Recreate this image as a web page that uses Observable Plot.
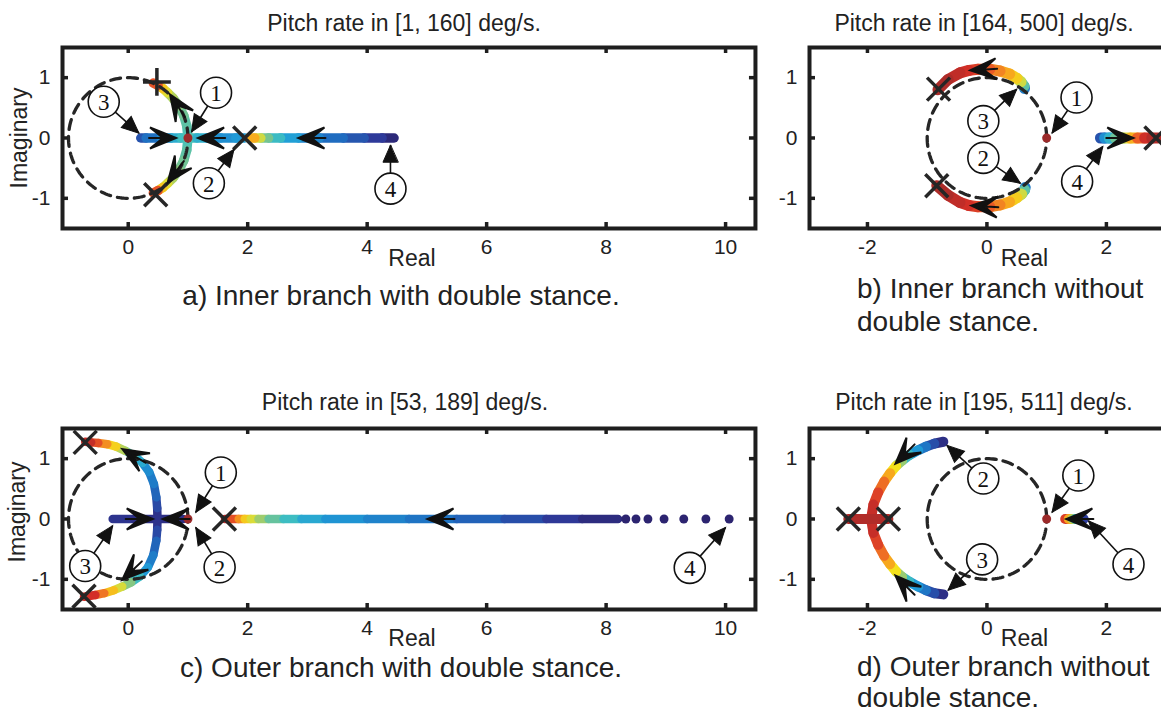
<!DOCTYPE html>
<html><head><meta charset="utf-8">
<script src="https://cdn.jsdelivr.net/npm/d3@7"></script>
<script src="https://cdn.jsdelivr.net/npm/@observablehq/plot@0.6"></script>
<style>
html,body{margin:0;padding:0;background:#fff;}
#root{position:relative;width:1161px;height:712px;overflow:hidden;background:#fff;font-family:"Liberation Sans",Arial,sans-serif;color:#222;}
.t{position:absolute;white-space:nowrap;line-height:1;}
.panel{position:absolute;}
.panel svg [aria-label^="x-axis"] text, .panel svg [aria-label^="y-axis"] text{font-size:21px;}
</style></head><body><div id="root"></div>
<script>
// ---------- data ----------
const xTicksWide = [0, 2, 4, 6, 8, 10];
const xTicksNarrow = [-2, 0, 2];
const yTicks = [-1, 0, 1];

const titles = ["Pitch rate in [1, 160] deg/s.", "Pitch rate in [164, 500] deg/s.", "Pitch rate in [53, 189] deg/s.", "Pitch rate in [195, 511] deg/s."];
const captionA = ["a) Inner branch with double stance."];
const captionB = ["b) Inner branch without", "double stance."];
const captionC = ["c) Outer branch with double stance."];
const captionD = ["d) Outer branch without", "double stance."];
const xLabel = "Real";
const yLabel = "Imaginary";

// branches: [real, imag, normalised pitch rate]
const aBranch3 = [[0.21,0,0.1],[0.3,0,0.2],[0.55,0,0.22],[0.72,0,0.3],[0.88,0,0.37],[1.0,0,0.39]];
const aBranch2 = [[1.0,0,0.39],[1.15,0,0.38],[1.32,0,0.3],[1.55,0,0.26],[1.8,0,0.28],[1.95,0,0.3]];
const aBranch4 = [[4.45,0,0.02],[4.25,0,0.07],[3.95,0,0.13],[3.6,0,0.18],[3.2,0,0.22],[2.85,0,0.27],[2.55,0,0.34],[2.35,0,0.4],[2.22,0,0.5],[2.12,0,0.6],[2.02,0,0.75]];
const aArcUp = [[1.0,0,0.39],[0.98,0.2,0.41],[0.93,0.37,0.43],[0.85,0.53,0.46],[0.75,0.66,0.49],[0.66,0.75,0.54],[0.58,0.82,0.6],[0.5,0.87,0.68],[0.42,0.91,0.93]];
const aArcDown = [[1.0,0,0.39],[0.98,-0.2,0.41],[0.93,-0.37,0.43],[0.85,-0.53,0.46],[0.75,-0.66,0.49],[0.66,-0.75,0.54],[0.58,-0.82,0.6],[0.5,-0.87,0.68],[0.42,-0.91,0.93]];
const aCrosses = [[0.46,-0.94],[1.95,0]];
const aPlus = [[0.48,0.93]];
const aRedDots = [[1,0]];
const aArrows = [[0.8,0,1,0],[1.17,0,-1,0],[2.85,0,-1,0],[0.7,0.72,-0.55,0.83],[0.66,-0.74,-0.6,-0.8]];
const aLabels = [["1",1.47,0.75,1.06,0.1],["2",1.35,-0.75,1.77,-0.19],["3",-0.41,0.6,0.18,0.08],["4",4.39,-0.84,4.39,-0.12]];

const bArc3 = [[0.63,0.82,0.12],[0.62,0.86,0.34],[0.57,0.93,0.5],[0.5,0.99,0.6],[0.38,1.06,0.66],[0.22,1.11,0.7],[0.05,1.14,0.76],[-0.15,1.14,0.82],[-0.3,1.12,0.86],[-0.45,1.08,0.89],[-0.65,0.97,0.94],[-0.82,0.8,0.98]];
const bArc2 = [[0.64,-0.82,0.12],[0.63,-0.86,0.34],[0.58,-0.93,0.5],[0.5,-0.99,0.6],[0.38,-1.06,0.66],[0.22,-1.11,0.7],[0.05,-1.14,0.76],[-0.15,-1.14,0.82],[-0.3,-1.12,0.86],[-0.45,-1.07,0.89],[-0.65,-0.95,0.94],[-0.84,-0.79,0.98]];
const bBranch4 = [[1.9,0,0.08],[1.97,0,0.22],[2.05,0,0.32],[2.15,0,0.38],[2.28,0,0.5],[2.4,0,0.62],[2.52,0,0.72],[2.64,0,0.84],[2.76,0,0.92],[2.86,0,0.97]];
const bCrosses = [[-0.81,0.81],[-0.84,-0.79],[2.83,0]];
const bRedDots = [[1,0]];
const bArrows = [[-0.28,1.12,-1,-0.06],[-0.26,-1.12,-1,0.06],[2.45,0,1,0]];
const bLabels = [["1",1.5,0.67,1.09,0.08],["3",-0.06,0.28,0.5,0.81],["2",-0.06,-0.33,0.56,-0.75],["4",1.51,-0.72,1.94,-0.14]];

const cBranch3 = [[-0.26,0,0.09],[0.1,0,0.07],[0.5,0,0.06],[0.92,0,0.07]];
const cArcUp = [[0.49,0,0.05],[0.485,0.18,0.1],[0.47,0.36,0.16],[0.43,0.58,0.21],[0.35,0.78,0.25],[0.24,0.93,0.28],[0.1,1.05,0.38],[-0.05,1.13,0.46],[-0.2,1.2,0.58],[-0.35,1.24,0.67],[-0.5,1.26,0.76],[-0.62,1.27,0.86],[-0.72,1.28,0.95]];
const cArcDown = [[0.49,0,0.05],[0.485,-0.18,0.1],[0.47,-0.36,0.16],[0.42,-0.6,0.21],[0.33,-0.8,0.26],[0.2,-0.95,0.32],[0.05,-1.05,0.42],[-0.1,-1.12,0.52],[-0.24,-1.18,0.6],[-0.4,-1.23,0.7],[-0.55,-1.26,0.8],[-0.74,-1.29,0.94]];
const cBranch4 = [[1.62,0,0.95],[1.72,0,0.87],[1.85,0,0.75],[1.95,0,0.67],[2.05,0,0.6],[2.18,0,0.53],[2.35,0,0.46],[2.6,0,0.4],[2.9,0,0.35],[3.3,0,0.3],[4.0,0,0.26],[4.7,0,0.23],[5.5,0,0.2],[6.3,0,0.16],[7.0,0,0.12],[7.6,0,0.07],[8.2,0,0.04]];
const cSparseDots = [[8.33,0,0.03],[8.5,0,0.03],[8.7,0,0.03],[8.97,0,0.03],[9.3,0,0.03],[9.67,0,0.03],[10.06,0,0.03]];
const cCrosses = [[-0.72,1.27],[-0.74,-1.28],[1.61,0]];
const cRedDots = [[1,0]];
const cArrows = [[0.41,0,1,0],[0.58,0,-1,0],[-0.1,1.16,-0.85,0.5],[-0.1,-1.01,-0.72,-0.68],[5.01,0,-1,0]];
const cLabels = [["1",1.55,0.77,1.13,0.11],["2",1.53,-0.8,1.13,-0.14],["3",-0.72,-0.78,-0.26,-0.11],["4",9.4,-0.81,10.0,-0.14]];

const dBranch4 = [[1.31,0,0.93],[1.37,0,0.76],[1.43,0,0.6],[1.48,0,0.44],[1.53,0,0.3],[1.58,0,0.16],[1.62,0,0.05]];
const dArcUp = [[-0.73,1.28,0.03],[-0.88,1.25,0.1],[-1.02,1.2,0.18],[-1.15,1.14,0.26],[-1.3,1.06,0.32],[-1.42,0.97,0.42],[-1.52,0.88,0.56],[-1.62,0.76,0.64],[-1.72,0.62,0.72],[-1.82,0.44,0.8],[-1.9,0.24,0.87],[-1.94,0,0.93]];
const dArcDown = [[-0.73,-1.25,0.03],[-0.88,-1.23,0.1],[-1.02,-1.18,0.18],[-1.15,-1.12,0.26],[-1.3,-1.04,0.32],[-1.42,-0.96,0.42],[-1.52,-0.87,0.56],[-1.62,-0.75,0.64],[-1.72,-0.61,0.72],[-1.82,-0.43,0.8],[-1.9,-0.23,0.87],[-1.94,0,0.93]];
const dBar = [[-2.32,0,0.95],[-1.65,0,0.95]];
const dCrosses = [[-2.32,0],[-1.65,0]];
const dRedDots = [[1,0]];
const dArrows = [[-1.53,0.92,-0.7,-0.7],[-1.53,-0.94,-0.7,0.7],[1.33,0,-1,0]];
const dLabels = [["2",-0.06,0.67,-0.67,1.22],["3",-0.08,-0.67,-0.65,-1.18],["1",1.53,0.72,1.09,0.11],["4",2.37,-0.75,1.7,-0.03]];

// ---------- styling ----------
const cmapT = [0, 0.1, 0.2, 0.3, 0.38, 0.46, 0.54, 0.6, 0.68, 0.78, 0.87, 1];
const cmapC = ["#2b1b5e","#2e3a9a","#1f6cc0","#1f9ed8","#3fbfc0","#7dc58a","#c8d84a","#f4e21c","#f7a81e","#ec5f26","#d32f27","#9b2a2a"];
const ink = "#1e1e1e";
const PXU = 59.74;
const M = {ml: 62, mr: 20, mt: 47, mb: 42, fh: 181};
const yDomain = [-1.5, 1.5];
const unitCircleRadius = 1;
const unitCircle = d3.range(0, 361, 2).map(a => [unitCircleRadius * Math.cos(a * Math.PI / 180), unitCircleRadius * Math.sin(a * Math.PI / 180)]);

const stealth = {draw(ctx, l) {
  ctx.moveTo(0, 0); ctx.lineTo(0, -l + 12);
  ctx.moveTo(0, -l); ctx.lineTo(-10.5, -l + 26); ctx.lineTo(0, -l + 13); ctx.lineTo(10.5, -l + 26); ctx.closePath();
}};
const tri = {draw(ctx, l) {
  ctx.moveTo(0, -l); ctx.lineTo(-7.5, 0); ctx.lineTo(7.5, 0); ctx.closePath();
}};
const deg = (dx, dy) => Math.atan2(dx, dy) * 180 / Math.PI;

function makePanel(p) {
  const segs = [];
  for (const br of p.branches) for (let i = 1; i < br.length; ++i)
    segs.push({x1: br[i-1][0], y1: br[i-1][1], x2: br[i][0], y2: br[i][1], t: (br[i-1][2] + br[i][2]) / 2});
  const [x0, x1] = p.xDomain;
  const fw = (x1 - x0) * PXU;
  const tly = 6 * (yDomain[1] - yDomain[0]) / M.fh, tlx = 6 / PXU;
  const width = M.ml + fw + M.mr, height = M.mt + M.fh + M.mb;
  const svg = Plot.plot({
    width, height, marginLeft: M.ml, marginRight: M.mr, marginTop: M.mt, marginBottom: M.mb,
    x: {domain: p.xDomain}, y: {domain: yDomain},
    color: {type: "linear", domain: cmapT, range: cmapC, interpolate: "rgb"},
    style: {fontFamily: '"Liberation Sans", Arial, sans-serif', fontSize: "21px", color: "#222", background: "transparent", overflow: "visible", maxWidth: "none"},
    marks: [
      Plot.link(segs, {x1: "x1", y1: "y1", x2: "x2", y2: "y2", stroke: "t", strokeWidth: p.lw, strokeLinecap: "round"}),
      p.sparse ? Plot.dot(p.sparse, {x: d => d[0], y: d => d[1], fill: d => d[2], r: p.lw / 2 + 0.2}) : null,
      Plot.line(unitCircle, {x: d => d[0], y: d => d[1], stroke: "#262626", strokeWidth: 3.3, strokeDasharray: "10,7"}),
      Plot.dot(p.redDots, {x: d => d[0], y: d => d[1], r: 4.5, fill: "#9b2a2a"}),
      Plot.dot(p.crosses, {x: d => d[0], y: d => d[1], symbol: "times", r: 10.5, stroke: "#262626", strokeWidth: 3.5}),
      p.plus ? Plot.dot(p.plus, {x: d => d[0], y: d => d[1], symbol: "plus", r: 9, stroke: "#262626", strokeWidth: 3.5}) : null,
      Plot.vector(p.arrows, {x: d => d[0], y: d => d[1], rotate: d => deg(d[2], d[3]), length: 27, anchor: "end", shape: stealth, fill: "#111", stroke: "#111", strokeWidth: 2, strokeLinejoin: "miter"}),
      Plot.link(p.labels, {x1: d => d[1], y1: d => d[2], x2: d => d[3], y2: d => d[4], stroke: "#111", strokeWidth: 1.6}),
      Plot.vector(p.labels, {x: d => d[3], y: d => d[4], rotate: d => deg(d[3] - d[1], d[4] - d[2]), length: 17, anchor: "end", shape: tri, fill: "#111", stroke: "#111", strokeWidth: 1, strokeLinejoin: "miter"}),
      Plot.dot(p.labels, {x: d => d[1], y: d => d[2], r: 15.5, fill: "white", stroke: "#111", strokeWidth: 1.6}),
      Plot.text(p.labels, {x: d => d[1], y: d => d[2], text: d => d[0], fontFamily: '"Liberation Serif", "Times New Roman", serif', fontSize: 23, fill: "#111", dy: 1}),
      Plot.ruleX(p.xTicks, {x: d => d, y1: yDomain[0], y2: yDomain[0] + tly, stroke: ink, strokeWidth: 3.5}),
      Plot.ruleX(p.xTicks, {x: d => d, y1: yDomain[1], y2: yDomain[1] - tly, stroke: ink, strokeWidth: 3.5}),
      Plot.ruleY(yTicks, {y: d => d, x1: x0, x2: x0 + tlx, stroke: ink, strokeWidth: 3.5}),
      Plot.ruleY(yTicks, {y: d => d, x1: x1, x2: x1 - tlx, stroke: ink, strokeWidth: 3.5}),
      Plot.frame({stroke: ink, strokeWidth: 4}),
      Plot.axisX(p.xTicks, {tickSize: 0, tickPadding: 11, tickFormat: d => String(d), label: null, fontSize: 21, fill: "#222"}),
      Plot.axisY(yTicks, {tickSize: 0, tickPadding: 12, tickFormat: d => String(d), label: null, fontSize: 21, fill: "#222"})
    ]
  });
  const div = document.createElement("div");
  div.className = "panel";
  div.style.left = p.left + "px"; div.style.top = p.top + "px"; div.style.width = width + "px";
  div.appendChild(svg);
  root.appendChild(div);
}

const root = document.getElementById("root");

makePanel({left: 0, top: 0, xDomain: [-1.1, 10.5], xTicks: xTicksWide, lw: 9.5,
  branches: [aBranch3, aBranch2, aBranch4, aArcUp, aArcDown], crosses: aCrosses, plus: aPlus,
  redDots: aRedDots, arrows: aArrows, labels: aLabels});
makePanel({left: 747, top: 0, xDomain: [-2.97, 4.2], xTicks: xTicksNarrow, lw: 11,
  branches: [bArc3, bArc2, bBranch4], crosses: bCrosses,
  redDots: bRedDots, arrows: bArrows, labels: bLabels});
makePanel({left: 0, top: 381, xDomain: [-1.1, 10.5], xTicks: xTicksWide, lw: 8.5,
  branches: [cBranch3, cBranch4, cArcUp, cArcDown], sparse: cSparseDots, crosses: cCrosses,
  redDots: cRedDots, arrows: cArrows, labels: cLabels});
makePanel({left: 747, top: 381, xDomain: [-2.97, 4.2], xTicks: xTicksNarrow, lw: 10,
  branches: [dArcUp, dArcDown, dBar, dBranch4], crosses: dCrosses,
  redDots: dRedDots, arrows: dArrows, labels: dLabels});

// ---------- text ----------
function addText(str, o) {
  const el = document.createElement("div");
  el.className = "t"; el.textContent = str; el.style.fontSize = o.size + "px";
  if (o.rotate) {
    el.style.left = o.x + "px"; el.style.top = o.y + "px";
    el.style.transform = "translate(-50%,-50%) rotate(-90deg)";
  } else {
    el.style.left = o.x + "px"; el.style.top = (o.baseline - 0.8465 * o.size) + "px";
    if (o.anchor !== "start") el.style.transform = "translateX(-50%)";
  }
  root.appendChild(el);
}
addText(titles[0], {x: 404, baseline: 31, size: 23});
addText(titles[1], {x: 984, baseline: 31, size: 23});
addText(titles[2], {x: 405, baseline: 410, size: 23});
addText(titles[3], {x: 984, baseline: 410, size: 23});
addText(xLabel, {x: 412, baseline: 266.5, size: 23});
addText(xLabel, {x: 1024.5, baseline: 266.5, size: 23});
addText(xLabel, {x: 412, baseline: 646.5, size: 23});
addText(xLabel, {x: 1024.5, baseline: 646.5, size: 23});
addText(yLabel, {x: 19, y: 138, size: 23, rotate: true});
addText(yLabel, {x: 17, y: 512, size: 23, rotate: true});
addText(captionA[0], {x: 401, baseline: 306, size: 28});
addText(captionC[0], {x: 401, baseline: 678, size: 28});
captionB.forEach((s, i) => addText(s, {x: 857, baseline: 298.3 + i * 33.4, size: 28, anchor: "start"}));
captionD.forEach((s, i) => addText(s, {x: 857, baseline: 677 + i * 30.5, size: 28, anchor: "start"}));
</script></body></html>
